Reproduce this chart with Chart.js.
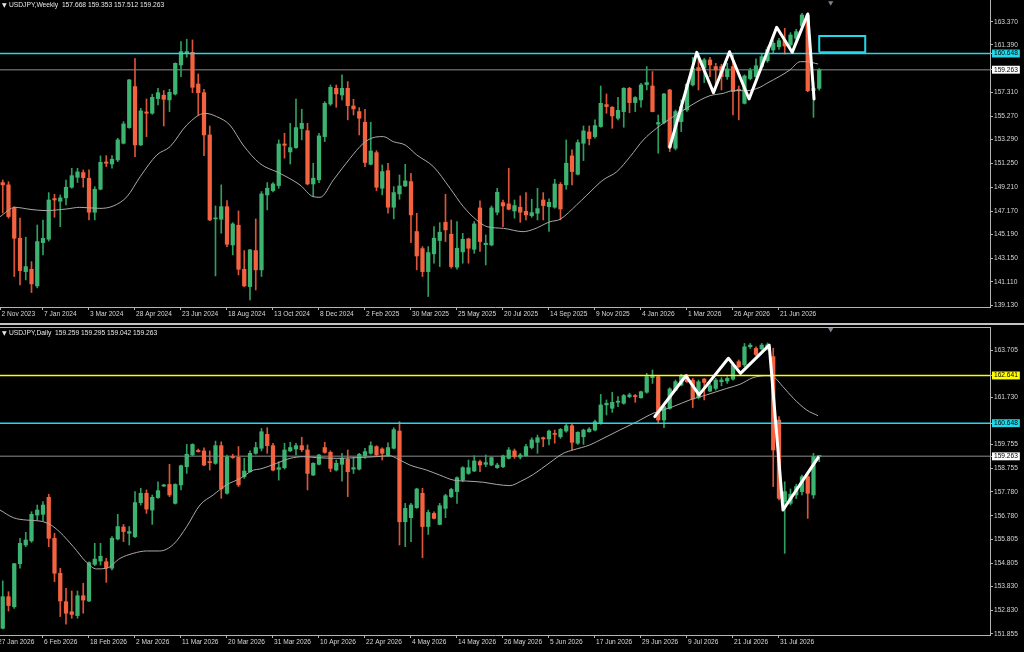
<!DOCTYPE html>
<html><head><meta charset="utf-8">
<script src="https://cdn.jsdelivr.net/npm/chart.js@4.4.1/dist/chart.umd.min.js"></script>
<style>
html,body{margin:0;padding:0;background:#000;}
#wrap{position:relative;width:1024px;height:652px;overflow:hidden;background:#000;}
canvas{position:absolute;left:0;}
#cw{top:0;}
#cd{top:326px;}
.sep{position:absolute;left:0;width:1024px;height:2px;top:323px;background:#c4c4c4;}
.topline{position:absolute;left:0;width:991px;height:1px;top:327px;background:#b4b4b4;}
.hdr{position:absolute;font:6.7px 'Liberation Sans',Arial,sans-serif;color:#e8e8e8;white-space:pre;line-height:8px;}
.tri{position:absolute;font:6px 'DejaVu Sans',sans-serif;color:#e8e8e8;line-height:8px;}
</style></head>
<body>
<div id="wrap">
<canvas id="cw" width="1024" height="320"></canvas>
<div class="sep"></div>
<canvas id="cd" width="1024" height="326"></canvas>
<div class="topline"></div>
<div class="tri" style="left:2px;top:1px">▼</div>
<div class="hdr" style="left:9px;top:1px">USDJPY,Weekly  157.668 159.353 157.512 159.263</div>
<div class="tri" style="left:2px;top:329px">▼</div>
<div class="hdr" style="left:9px;top:329px">USDJPY,Daily  159.259 159.295 159.042 159.263</div>
</div>
<script>
// ---------- WEEKLY ----------
const wLabels = ['2 Nov 2023','7 Jan 2024','3 Mar 2024','28 Apr 2024','23 Jun 2024','18 Aug 2024','13 Oct 2024','8 Dec 2024','2 Feb 2025','30 Mar 2025','25 May 2025','20 Jul 2025','14 Sep 2025','9 Nov 2025','4 Jan 2026','1 Mar 2026','26 Apr 2026','21 Jun 2026'];
const wLabelPos = [-0.4,7,15,23,31,39,47,55,63,71,79,87,95,103,111,119,127,135];
const wO = [149.61,149.41,147.41,144.84,141.99,142.19,140.77,144.47,144.76,148.24,148.01,148.30,149.21,150.06,150.46,149.98,147.07,149.04,151.37,151.20,151.54,152.97,154.31,157.82,152.83,155.65,155.54,156.79,157.08,156.68,157.19,159.67,160.67,160.75,158.04,157.30,153.68,146.50,146.47,147.55,144.27,145.96,142.19,140.71,143.79,142.14,148.55,148.92,149.35,152.91,152.23,152.60,154.23,154.05,149.49,149.84,153.54,156.33,157.67,157.10,157.67,156.16,155.68,154.77,151.17,152.17,149.12,150.63,147.50,148.64,149.32,149.69,145.42,143.96,141.99,143.51,144.65,146.21,145.19,142.37,143.68,144.79,143.90,147.44,144.30,144.27,147.07,147.89,147.78,147.18,147.50,147.15,146.78,146.98,148.12,147.55,147.50,149.46,149.41,151.89,150.32,152.97,153.94,153.54,154.40,156.28,156.05,155.11,155.68,157.67,156.45,156.68,157.99,157.87,154.62,154.74,157.53,152.54,154.82,155.82,157.96,159.44,159.39,160.10,159.53,159.53,158.67,159.53,157.59,156.39,158.50,158.67,159.52,160.04,160.95,161.23,161.75,161.38,161.95,163.00,163.94,157.47,157.668];
const wH = [149.83,149.69,147.55,146.56,144.93,142.85,145.98,146.41,148.75,148.61,148.55,149.83,150.83,150.83,150.69,150.69,149.26,151.89,151.91,151.91,153.40,154.82,158.44,160.21,155.96,156.76,157.16,157.67,157.48,157.59,159.85,161.67,161.87,161.81,158.90,157.59,154.45,147.61,149.41,148.07,146.18,147.18,143.79,143.90,146.50,148.84,149.61,149.61,153.26,153.83,154.68,156.76,155.88,154.68,151.26,153.83,156.53,157.96,157.96,158.82,158.24,156.73,156.02,155.88,154.77,152.34,151.12,151.26,149.26,150.26,151.17,150.40,146.98,144.13,144.13,145.84,146.18,148.61,146.41,146.27,145.27,144.85,146.27,148.04,145.13,147.61,149.12,148.12,150.83,148.12,148.47,148.75,148.18,149.12,148.75,148.21,149.89,149.61,153.26,152.40,153.26,154.45,154.45,154.97,157.87,157.19,156.11,156.90,157.73,157.76,156.96,158.10,159.53,159.10,155.39,157.25,157.59,155.82,156.68,158.10,160.33,160.44,160.24,160.33,159.81,159.73,159.81,160.53,157.87,158.82,159.39,160.20,160.60,161.23,161.75,161.95,162.80,162.43,162.72,164.08,164.03,158.20,159.353];
const wL = [147.00,146.56,141.57,140.85,141.28,140.20,140.60,143.42,144.60,146.64,145.84,147.70,149.12,149.61,149.21,146.41,146.41,148.98,150.98,150.83,151.40,152.91,154.25,151.83,152.77,153.54,155.45,156.25,154.45,155.68,157.10,158.67,160.33,157.30,155.39,151.91,146.35,141.62,145.27,144.13,143.42,141.71,140.71,139.57,140.42,141.57,147.27,148.80,149.12,151.69,151.20,152.54,153.26,149.41,148.41,149.61,153.11,156.20,156.05,156.68,154.97,155.39,153.68,150.97,151.12,148.92,148.55,146.98,146.50,148.18,149.26,144.47,142.14,141.57,139.86,142.71,142.42,144.56,142.28,142.19,142.71,142.71,143.56,143.71,142.56,144.19,146.84,145.84,147.27,146.56,146.21,146.41,146.64,146.41,146.41,145.42,147.41,146.41,149.04,149.41,150.26,151.49,152.83,153.40,154.34,155.54,154.25,154.97,154.34,155.59,155.68,156.05,157.53,155.65,152.12,154.62,152.26,152.40,153.97,155.70,157.87,157.53,158.16,158.67,157.76,157.53,158.44,155.39,154.97,156.33,158.39,158.60,159.40,159.90,160.70,161.00,160.60,161.20,161.70,162.80,157.38,155.19,157.512];
const wC = [149.41,146.70,144.84,142.08,142.42,140.94,144.56,144.84,148.12,148.12,148.30,149.21,150.20,150.52,150.03,147.07,149.04,151.34,151.26,151.60,153.26,154.62,158.39,152.83,155.74,155.54,156.90,157.30,156.73,157.33,159.81,160.81,160.81,157.76,157.30,153.68,146.41,146.58,147.55,144.33,146.07,142.19,140.77,143.85,142.14,148.64,149.12,149.49,152.91,152.80,152.60,154.31,154.68,149.49,149.98,153.60,156.39,157.76,157.19,157.67,156.19,155.91,155.11,151.32,152.31,149.21,150.55,147.50,148.75,149.32,149.75,146.84,143.33,141.99,143.62,144.85,145.36,145.56,142.42,143.99,144.76,143.99,146.07,144.56,144.42,147.44,148.78,147.61,147.33,147.64,147.07,146.84,147.04,147.38,147.64,147.92,149.49,147.35,151.26,150.55,153.03,154.03,153.37,154.48,156.39,156.11,155.31,155.79,157.67,156.45,156.88,157.96,158.16,155.68,154.74,157.19,152.63,155.68,156.11,158.02,159.39,159.19,160.10,159.67,159.24,158.67,159.33,157.39,157.48,158.73,159.19,159.60,160.38,161.00,161.52,161.75,161.29,162.23,162.52,163.94,157.47,157.66,159.263];
const wMAx = [-0.48,2.13,4.74,7.35,11.1,13.4,16.9,19.2,21.6,23.9,26.8,29.1,32.0,35.2,37.2,39.5,41.8,44.7,48.2,51.7,54.0,55.2,57.5,60.4,62.7,64.4,66.2,67.9,70.0,72.0,74.9,77.8,80.1,82.4,84.2,87.1,90.5,92.3,95.2,96.9,99.8,101.6,104.4,106.8,109.1,111.4,113.7,116.6,118.9,121.3,123.0,125.3,127.0,129.4,131.7,132.9,135.2,136.9,138.7,139.8,141.8];
const wMAy = [146.69,147.49,147.32,147.21,147.35,147.49,147.40,147.60,148.40,150.11,151.97,152.68,154.53,155.53,155.25,154.53,152.82,151.25,150.40,149.40,148.40,148.35,149.83,151.68,152.96,153.45,153.54,153.11,152.82,151.97,150.97,149.12,147.55,146.41,145.84,145.69,145.41,145.61,146.26,146.46,147.69,148.54,149.83,150.54,151.82,153.25,154.25,155.25,155.96,156.67,157.04,157.24,157.47,157.47,157.76,158.10,158.72,159.24,159.95,159.95,159.75];
const wZigX = [116.0,120.7,123.6,126.4,129.8,134.6,137.3,140.0,141.1];
const wZigY = [152.63,160.75,157.30,160.80,156.76,162.89,160.75,164.03,156.76];
const wBoxX = [142,150,150,142,142];
const wBoxY = [160.75,160.75,162.15,162.15,160.75];
const wYTicks = [163.370,161.390,157.310,155.270,153.290,151.250,149.210,147.170,145.190,143.150,141.110,139.130];
const wLevelCyan = 160.648;
const wLevelBid = 159.263;

// ---------- DAILY ----------
const dLabels = ['27 Jan 2026','6 Feb 2026','18 Feb 2026','2 Mar 2026','11 Mar 2026','20 Mar 2026','31 Mar 2026','10 Apr 2026','22 Apr 2026','4 May 2026','14 May 2026','26 May 2026','5 Jun 2026','17 Jun 2026','29 Jun 2026','9 Jul 2026','21 Jul 2026','31 Jul 2026'];
const dLabelPos = [-1,7,15,23,31,39,47,55,63,71,79,87,95,103,111,119,127,135];
const dO = [152.08,153.40,152.98,154.78,155.56,155.73,156.81,156.84,157.55,155.84,154.38,153.19,152.77,152.61,153.44,153.22,154.75,154.89,154.86,154.59,155.81,156.31,156.05,155.91,157.33,157.72,157.02,157.54,158.02,158.09,157.30,158.07,158.83,159.32,159.51,159.49,159.04,158.97,159.71,157.72,159.25,159.22,158.41,158.62,159.39,159.60,160.18,159.71,158.72,158.79,159.49,159.57,159.71,159.53,158.48,158.93,159.63,159.43,158.69,158.93,159.14,158.73,158.73,159.29,159.39,159.67,159.57,159.32,159.60,160.32,156.53,156.70,157.12,157.72,156.33,156.88,156.42,157.09,157.58,157.79,158.27,158.55,158.65,159.04,158.93,158.90,158.79,158.83,159.18,159.49,159.23,159.29,159.63,159.85,160.04,159.99,160.21,160.08,160.32,160.54,159.81,160.08,160.29,160.36,160.64,161.41,161.27,161.52,161.48,161.76,161.80,161.71,161.94,162.55,162.59,160.78,161.27,162.03,162.24,162.59,162.45,161.71,162.49,161.99,162.10,162.38,162.41,162.49,163.22,163.08,163.84,163.77,163.75,163.80,163.43,160.78,157.37,157.30,157.65,157.79,158.41,157.65,159.259];
const dH = [154.06,153.61,154.79,155.84,156.09,156.95,157.23,157.37,157.68,156.05,154.59,153.75,153.64,153.64,153.96,154.86,155.63,155.63,155.00,155.91,156.84,156.42,156.33,157.79,157.93,157.86,157.65,158.20,158.10,158.93,158.12,158.90,159.76,159.79,159.57,159.62,159.49,159.90,159.87,159.32,159.35,159.67,159.18,159.49,159.85,160.43,160.46,159.81,159.04,159.81,159.85,159.81,160.06,159.74,159.00,159.35,159.85,159.49,159.11,159.39,159.53,159.21,159.39,159.60,159.87,159.71,159.62,159.83,160.46,160.71,157.30,157.30,157.93,157.93,157.02,156.95,157.30,157.68,157.93,158.41,158.83,159.11,159.29,159.11,159.32,159.25,158.97,159.32,159.63,159.57,159.39,159.76,160.04,160.15,160.07,160.36,160.36,160.43,160.60,160.60,160.29,160.40,160.46,160.78,161.85,161.62,161.94,161.76,161.85,161.90,161.85,161.99,162.73,162.87,162.62,161.44,162.13,162.45,162.69,162.69,162.52,162.45,162.52,162.45,162.52,162.55,162.59,163.15,163.29,163.98,163.98,163.84,163.98,164.00,163.78,160.92,158.20,157.90,158.10,158.48,158.51,159.39,159.295];
const dL = [152.05,152.80,152.91,154.59,155.49,155.67,156.60,156.56,155.49,154.03,152.57,152.25,152.50,152.50,152.71,153.19,154.70,154.72,154.00,154.52,155.77,155.70,155.56,155.87,157.23,156.88,156.42,157.51,158.00,157.58,157.27,157.86,158.55,159.29,159.44,158.87,158.69,158.93,157.51,157.68,159.18,158.00,158.34,158.60,159.35,159.49,159.39,158.65,158.27,158.73,159.46,159.32,159.46,157.86,158.46,158.90,159.39,158.62,158.65,158.23,157.58,158.55,158.69,159.18,159.35,159.25,159.11,159.25,159.57,155.56,155.49,155.70,157.09,155.03,156.00,156.65,156.40,156.70,157.54,157.30,158.20,158.51,158.62,158.62,158.83,158.87,158.76,158.79,159.15,159.18,159.15,159.25,159.57,159.39,159.67,159.74,159.81,160.01,160.27,159.53,159.76,159.76,160.27,160.32,160.60,160.99,161.10,161.34,161.44,161.71,161.52,161.69,161.90,162.31,160.64,160.46,161.23,161.99,162.21,162.35,161.30,161.66,161.62,161.96,162.03,162.21,162.31,162.45,162.97,163.01,163.77,163.47,163.70,163.70,158.00,157.44,155.21,157.23,157.50,157.65,156.67,157.51,159.042];
const dC = [153.40,153.03,154.78,155.63,155.77,156.84,157.02,157.23,155.84,154.38,153.22,152.71,152.66,153.44,153.26,154.82,154.97,155.09,154.61,155.84,156.33,156.12,156.12,157.33,157.72,157.06,157.55,157.83,158.07,157.65,158.09,158.87,159.35,159.76,159.46,158.90,159.00,159.71,157.90,159.25,159.21,158.07,158.65,159.39,159.63,160.29,159.71,158.69,158.79,159.53,159.63,159.71,159.54,158.55,158.97,159.32,159.43,158.76,158.97,159.18,158.62,158.79,159.35,159.46,159.71,159.32,159.39,159.63,160.38,156.53,157.09,157.23,157.90,156.33,156.92,156.67,157.20,157.62,157.88,158.37,158.79,158.79,159.07,158.90,159.00,159.21,158.90,159.28,159.53,159.25,159.32,159.67,159.95,160.04,159.99,160.32,160.18,160.39,160.54,159.85,160.27,160.36,160.40,160.71,161.41,161.48,161.52,161.57,161.80,161.83,161.76,161.96,162.59,162.62,160.78,161.34,162.08,162.38,162.63,162.38,161.66,162.38,162.35,162.21,162.45,162.45,162.52,163.08,163.01,163.84,163.91,163.52,163.91,163.92,159.53,157.51,157.79,157.68,158.00,158.41,157.72,159.25,159.263];
const dMAx = [-0.48,1.84,4.16,6.48,8.22,9.96,12.27,14.6,16.3,18.1,20.4,22.7,25.0,27.3,29.7,32.0,34.3,36.6,38.9,41.3,43.6,44.7,47.6,50.0,52.3,54.6,58.1,61.6,65.0,67.3,68.5,70.8,73.7,76.0,78.4,80.7,83.6,85.9,88.2,90.0,92.3,95.2,97.5,99.2,102.1,104.4,107.3,110.3,113.1,116.6,119.5,122.4,125.9,128.2,130.5,132.9,134.0,135.7,137.5,139.8,141.8];
const dMAy = [157.02,156.70,156.60,156.56,156.42,156.09,155.49,154.83,154.56,154.59,155.00,155.21,155.31,155.31,155.59,156.33,157.23,157.65,158.07,158.34,158.69,158.73,158.97,159.18,159.25,159.21,159.18,159.21,159.25,159.29,159.18,158.90,158.69,158.48,158.27,158.23,158.18,158.09,158.04,158.21,158.51,159.01,159.39,159.53,159.74,160.01,160.36,160.71,161.06,161.34,161.62,161.83,162.10,162.27,162.55,162.63,162.59,162.17,161.69,161.20,160.96];
const dZigX = [113.4,118.8,121.1,126.2,128.3,133.3,135.7,141.8];
const dZigY = [160.92,162.63,161.83,163.36,162.73,163.91,157.02,159.21];
const dYTicks = [163.705,161.730,159.755,158.755,157.780,156.780,155.805,154.805,153.830,152.830,151.855];
const dLevelYellow = 162.641;
const dLevelCyan = 160.648;
const dLevelBid = 159.263;

// ---------- drawing ----------
const BULL = '#3cb371', BEAR = '#f4623f', BULLW = '#2f9e60', BEARW = '#dc5538';
const CYAN = '#22d8ea', YELLOW = '#ffff00', BIDC = '#5e5e5e', MAC = '#a9a9a9', AXC = '#b4b4b4', TXT = '#d6d6d6';
const FONT = {family: "'Liberation Sans', Arial, sans-serif", size: 6.6};
const XMIN = -0.478, XMAX = 171.70;

function pts(xs, ys){ return xs.map((x,i)=>({x:x, y:ys[i]})); }
function noPad(s){ s.paddingTop=0; s.paddingBottom=0; s.paddingLeft=0; s.paddingRight=0; }

function panel(id, o){
  const wicks=[], bodies=[], wc=[], bc=[];
  for(let i=0;i<o.C.length;i++){
    const up = o.C[i] >= o.O[i];
    wicks.push({x:i, y:[o.L[i], o.H[i]]});
    bodies.push({x:i, y:[o.O[i], o.C[i]]});
    wc.push(up?BULLW:BEARW); bc.push(up?BULL:BEAR);
  }
  const hline = (v,color,w,order)=>({type:'line', data:[{x:XMIN-3,y:v},{x:XMAX+3,y:v}], borderColor:color, borderWidth:w, pointRadius:0, order:order});
  const datasets = [
    {type:'line', data:pts(o.zigX,o.zigY), borderColor:'#ffffff', borderWidth:3, pointRadius:0, borderJoinStyle:'round', borderCapStyle:'round', order:0},
    {type:'line', data:[{x:144,y:o.markY}], showLine:false, pointStyle:'triangle', rotation:180, pointRadius:3, pointBackgroundColor:'#7b8494', pointBorderWidth:0, clip:false, order:0}
  ];
  if(o.boxX) datasets.push({type:'line', data:pts(o.boxX,o.boxY), borderColor:CYAN, borderWidth:2, pointRadius:0, order:1});
  o.levels.forEach(l=>datasets.push(hline(l.v,l.c,l.w,l.order)));
  datasets.push({type:'line', data:pts(o.maX,o.maY), borderColor:MAC, borderWidth:1, pointRadius:0, cubicInterpolationMode:'monotone', order:3});
  datasets.push({type:'bar', data:bodies, backgroundColor:bc, barThickness:3.6, grouped:false, minBarLength:1, borderWidth:0, order:4});
  datasets.push({type:'bar', data:wicks, backgroundColor:wc, barThickness:1, grouped:false, borderWidth:0, order:5});

  const boxOf = v => o.boxes.find(b=>Math.abs(b.v-v)<1e-6);
  new Chart(document.getElementById(id), {
    type:'bar',
    data:{datasets:datasets},
    options:{
      responsive:false, animation:false, events:[],
      layout:{autoPadding:false, padding:{left:0,right:0,top:o.padTop,bottom:0}},
      plugins:{legend:{display:false}, tooltip:{enabled:false}, title:{display:false}},
      scales:{
        x:{type:'linear', min:XMIN, max:XMAX, offset:false, bounds:'data',
          afterFit:s=>{s.height=o.xh; noPad(s);},
          afterBuildTicks:s=>{s.ticks=o.xPos.map(v=>({value:v}));},
          grid:{drawOnChartArea:false, drawTicks:true, tickLength:3, color:AXC, offset:false},
          border:{display:true, color:AXC, width:1},
          ticks:{autoSkip:false, maxRotation:0, minRotation:0, align:'start', labelOffset:1, padding:0, color:TXT, font:FONT,
            callback:(v,i)=>o.xLabels[i]}
        },
        y:{type:'linear', position:'right', min:o.ymin, max:o.ymax, bounds:'data',
          afterFit:s=>{s.width=34; noPad(s);},
          afterBuildTicks:s=>{s.ticks=o.yTicks.concat(o.boxes.map(b=>b.v)).map(v=>({value:v}));},
          grid:{drawOnChartArea:false, drawTicks:true, tickLength:3, color:AXC},
          border:{display:true, color:AXC, width:1},
          ticks:{autoSkip:false, padding:1, font:FONT,
            color:c=>boxOf(c.tick.value)?'#000000':TXT,
            showLabelBackdrop:c=>!!boxOf(c.tick.value),
            backdropColor:c=>{const b=boxOf(c.tick.value);return b?b.c:'rgba(0,0,0,0)';},
            backdropPadding:{x:2,y:0},
            callback:v=>Number(v).toFixed(3)}
        }
      }
    }
  });
}

panel('cw', {O:wO,H:wH,L:wL,C:wC, maX:wMAx, maY:wMAy, zigX:wZigX, zigY:wZigY, boxX:wBoxX, boxY:wBoxY,
  levels:[{v:wLevelCyan,c:CYAN,w:1.5,order:2},{v:wLevelBid,c:BIDC,w:1.5,order:6}],
  boxes:[{v:wLevelCyan,c:CYAN},{v:wLevelBid,c:'#ffffff'}],
  yTicks:wYTicks, ymin:138.964, ymax:165.226, xPos:wLabelPos, xLabels:wLabels, xh:13, padTop:0, markY:165.0});

panel('cd', {O:dO,H:dH,L:dL,C:dC, maX:dMAx, maY:dMAy, zigX:dZigX, zigY:dZigY,
  levels:[{v:dLevelYellow,c:YELLOW,w:1.5,order:2},{v:dLevelCyan,c:CYAN,w:1.5,order:2},{v:dLevelBid,c:BIDC,w:1.5,order:6}],
  boxes:[{v:dLevelYellow,c:YELLOW},{v:dLevelCyan,c:CYAN},{v:dLevelBid,c:'#ffffff'}],
  yTicks:dYTicks, ymin:151.80, ymax:164.666, xPos:dLabelPos, xLabels:dLabels, xh:17, padTop:1, markY:164.56});
</script>
</body></html>
